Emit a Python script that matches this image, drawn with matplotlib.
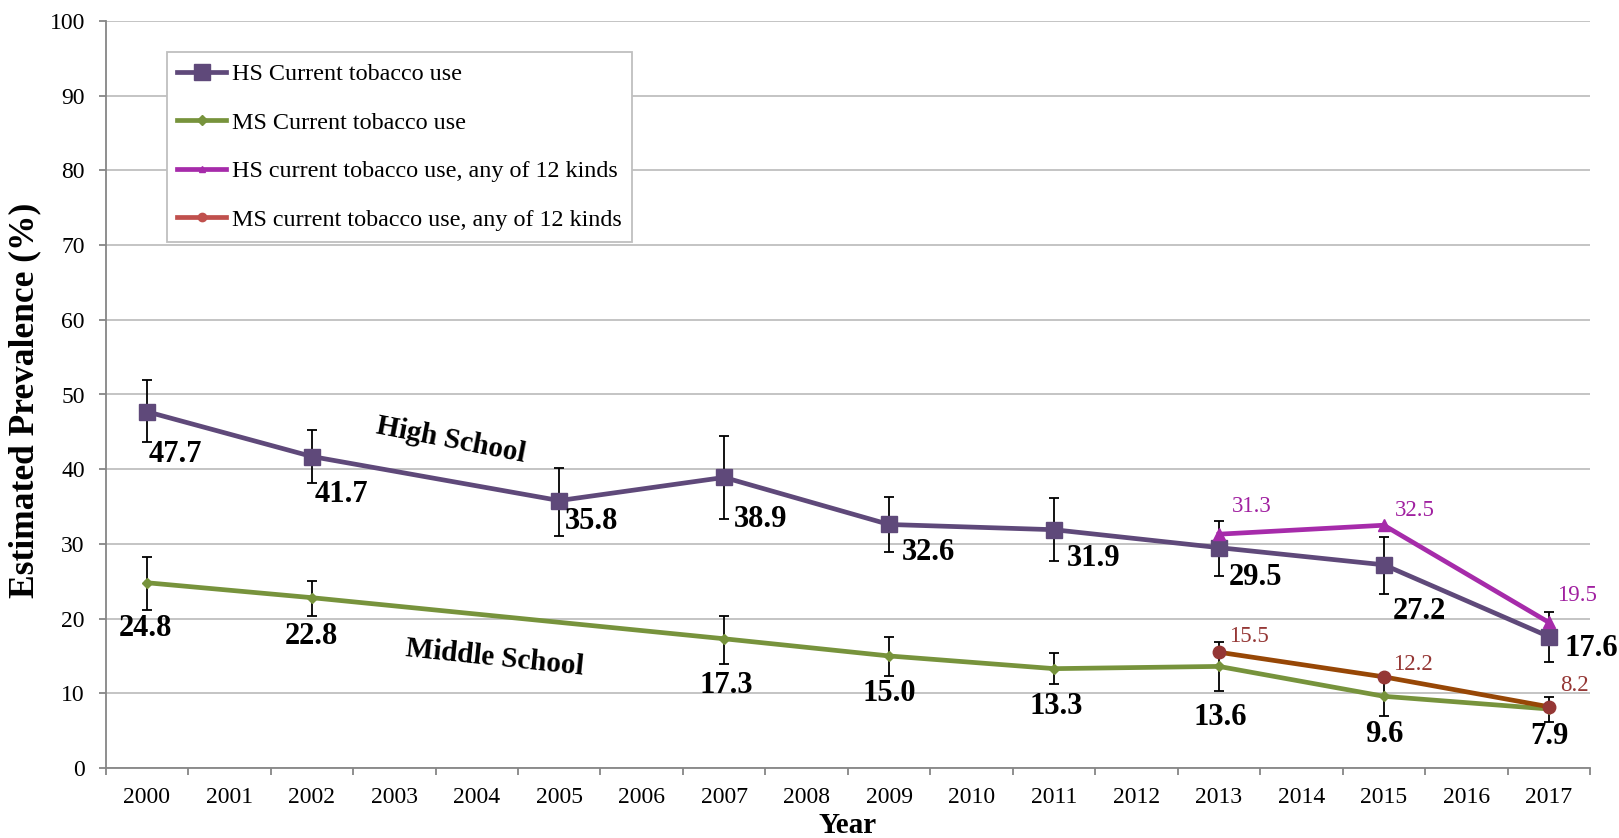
import numpy as np
import matplotlib
matplotlib.use("Agg")
import matplotlib.pyplot as plt
from matplotlib.lines import Line2D

plt.rcParams['font.family'] = ['Liberation Serif', 'DejaVu Serif']

# --- data ---
years = list(range(2000, 2018))

hs_years = [2000, 2002, 2005, 2007, 2009, 2011, 2013, 2015, 2017]
hs_vals = [47.7, 41.7, 35.8, 38.9, 32.6, 31.9, 29.5, 27.2, 17.6]
hs_low = [43.7, 38.2, 31.1, 33.4, 28.9, 27.7, 25.7, 23.3, 14.2]
hs_high = [51.9, 45.3, 40.2, 44.5, 36.3, 36.1, 33.1, 30.9, 20.9]

ms_years = [2000, 2002, 2007, 2009, 2011, 2013, 2015, 2017]
ms_vals = [24.8, 22.8, 17.3, 15.0, 13.3, 13.6, 9.6, 7.9]
ms_low = [21.2, 20.4, 13.9, 12.3, 11.2, 10.3, 7.0, 6.2]
ms_high = [28.3, 25.1, 20.4, 17.6, 15.4, 16.9, 12.2, 9.5]

k12_years = [2013, 2015, 2017]
hs12_vals = [31.3, 32.5, 19.5]
ms12_vals = [15.5, 12.2, 8.2]

# label offsets in pixels (dx, dy up)
hs_off = [(2, -43), (3, -38), (6, -21), (10, -42), (13, -28), (13, -29), (10, -30), (9, -47), (16, -12)]
ms_off = [(-1, -46), (0, -39), (2, -47), (0, -38), (2, -38), (1, -51), (0, -38), (1, -28)]
hs12_off = [(13, 28), (11, 15), (8, 27)]
ms12_off = [(10, 16), (9, 12), (11, 21)]

C_HS = '#5F497A'
C_MS = '#77933C'
C_HS12 = '#A62BAA'
C_MS12_LINE = '#974706'
C_MS12_MK = '#953735'
C_MS12_LEG = '#C0504D'


def xpos(yrs):
    return np.array([years.index(y) for y in yrs])


fig = plt.figure(figsize=(16.19, 8.38), dpi=100)
ax = fig.add_axes([105.7 / 1619, 1 - 768 / 838, 1484.3 / 1619, 747 / 838])

# error bars sit behind the series markers
for yrs, vals, lo, hi in [(hs_years, hs_vals, hs_low, hs_high),
                          (ms_years, ms_vals, ms_low, ms_high)]:
    v = np.array(vals)
    err = [v - np.array(lo), np.array(hi) - v]
    ax.errorbar(xpos(yrs), v, yerr=err, fmt='none', ecolor='black',
                elinewidth=1.3, capsize=3.5, capthick=1.3, zorder=2)

ax.plot(xpos(hs_years), hs_vals, color=C_HS, lw=3.4, marker='s', ms=11.5, zorder=3)
ax.plot(xpos(ms_years), ms_vals, color=C_MS, lw=3.4, marker='D', ms=5.5, zorder=3)
ax.plot(xpos(k12_years), hs12_vals, color=C_HS12, lw=3.4, marker='^', ms=9, zorder=4)
ax.plot(xpos(k12_years), ms12_vals, color=C_MS12_LINE, lw=3.4, marker='o', ms=9,
        mfc=C_MS12_MK, mec=C_MS12_MK, zorder=4)

# value labels
for x, v, off in zip(xpos(hs_years), hs_vals, hs_off):
    ax.annotate(f'{v:.1f}', (x, v), xytext=off, textcoords='offset pixels',
                ha='left', va='center', fontsize=22, fontweight='bold', zorder=5)
for x, v, off in zip(xpos(ms_years), ms_vals, ms_off):
    ax.annotate(f'{v:.1f}', (x, v), xytext=off, textcoords='offset pixels',
                ha='center', va='center', fontsize=22, fontweight='bold', zorder=5)
for x, v, off in zip(xpos(k12_years), hs12_vals, hs12_off):
    ax.annotate(f'{v:.1f}', (x, v), xytext=off, textcoords='offset pixels',
                ha='left', va='center', fontsize=16.5, color='#A020A0', zorder=5)
for x, v, off in zip(xpos(k12_years), ms12_vals, ms12_off):
    ax.annotate(f'{v:.1f}', (x, v), xytext=off, textcoords='offset pixels',
                ha='left', va='center', fontsize=16.5, color=C_MS12_MK, zorder=5)

# series captions
fig.text(451 / 1619, 1 - 440 / 838, 'High School', rotation=-11, ha='center', va='center',
         fontsize=21, fontweight='bold', rotation_mode='anchor')
fig.text(495 / 1619, 1 - 658 / 838, 'Middle School', rotation=-6, ha='center', va='center',
         fontsize=21, fontweight='bold', rotation_mode='anchor')

# axes styling
ax.set_ylim(0, 100)
ax.set_xlim(-0.5, len(years) - 0.5)
ax.set_yticks(np.arange(0, 101, 10))
ax.set_xticks(np.arange(len(years)))
ax.set_xticklabels([str(y) for y in years])
ax.set_xticks(np.arange(len(years) + 1) - 0.5, minor=True)
ax.tick_params(axis='x', which='major', length=0, pad=14, labelsize=17)
ax.tick_params(axis='x', which='minor', length=5, width=1.3, color='#868686', direction='out')
ax.tick_params(axis='y', length=5, width=1.3, color='#868686', direction='out', pad=10, labelsize=17)
ax.grid(axis='y', color='#BFBFBF', lw=1.3)
ax.set_axisbelow(True)
for side in ['top', 'right']:
    ax.spines[side].set_visible(False)
for side in ['left', 'bottom']:
    ax.spines[side].set_color('#868686')
    ax.spines[side].set_linewidth(1.3)

fig.text(25 / 1619, 1 - 400 / 838, 'Estimated Prevalence (%)', rotation=90,
         ha='center', va='center', fontsize=25.5, fontweight='bold')
fig.text(848 / 1619, 0.006, 'Year', ha='center', va='baseline', fontsize=21, fontweight='bold')

handles = [
    Line2D([], [], color=C_HS, lw=3.4, marker='s', ms=11),
    Line2D([], [], color=C_MS, lw=3.4, marker='D', ms=5.5),
    Line2D([], [], color=C_HS12, lw=3.4, marker='^', ms=5),
    Line2D([], [], color=C_MS12_LEG, lw=3.4, marker='o', ms=6),
]
labels = ['HS Current tobacco use', 'MS Current tobacco use',
          'HS current tobacco use, any of 12 kinds', 'MS current tobacco use, any of 12 kinds']
leg = ax.legend(handles, labels, loc='upper left', bbox_to_anchor=(0.041, 0.958),
                fontsize=17.4, frameon=True, fancybox=False, edgecolor='#BFBFBF',
                framealpha=1, borderaxespad=0, handlelength=2.0, handletextpad=0.25,
                labelspacing=1.1, borderpad=0.45)
leg.get_frame().set_linewidth(1.3)

fig.savefig('out.png', dpi=100)
